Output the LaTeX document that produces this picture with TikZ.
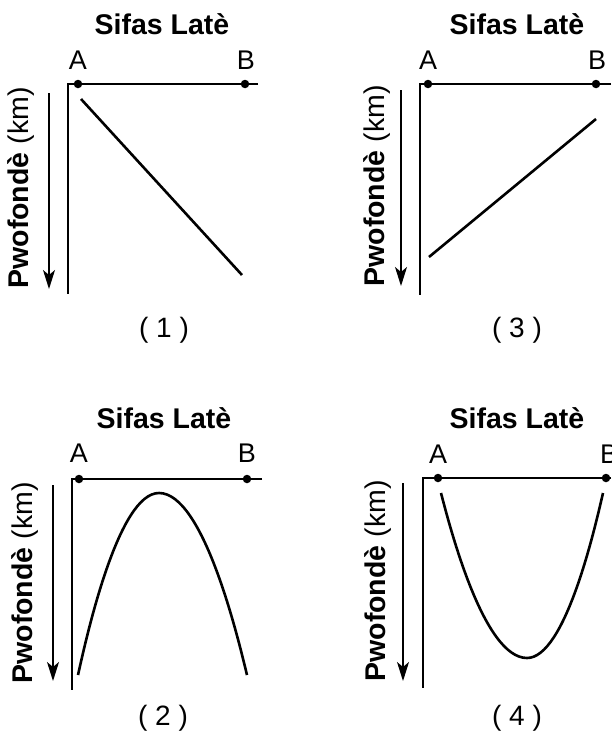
\documentclass[tikz,border=0pt]{standalone}
\usepackage{fontspec}
\setmainfont{Liberation Sans}
\usetikzlibrary{arrows.meta}
\begin{document}
\begin{tikzpicture}[x=1pt,y=-1pt,
  axis/.style={line width=1.3pt},
  graphline/.style={line width=2.6pt},
  deptharrow/.style={line width=1.4pt,-{Stealth[length=19pt,width=12pt,inset=5pt]}},
  dot/.style={circle,fill=black,inner sep=0pt,minimum size=8.5pt},
  title/.style={font=\fontsize{28.5}{32}\selectfont\bfseries},
  ptlabel/.style={font=\fontsize{27}{30}\selectfont},
  ylab/.style={rotate=90,font=\fontsize{28.5}{32}\selectfont},
  caption/.style={font=\fontsize{28}{32}\selectfont}]
\useasboundingbox (0,0) rectangle (611,744);

% ---------- Panel 1 ----------
\node[title] (t1) at (162,24) {Sifas Latè};
\coordinate (o1) at (68,84);
\coordinate (e1) at (258,84);
\coordinate (b1) at (68,294);
\node[dot] (A1) at (78,84) {};
\node[dot] (B1) at (245,84) {};
\node[ptlabel] (la1) at (78,60) {A};
\node[ptlabel] (lb1) at (246,60) {B};
\draw[axis] (e1) -- (o1) -- (b1);
\coordinate (as1) at (49,93);
\coordinate (ae1) at (49,289);
\draw[deptharrow] (as1) -- (ae1);
\node[ylab] (y1) at (21,188) {\textbf{Pwofondè} (km)};
\coordinate (p1s) at (81,99);
\coordinate (p1e) at (242,275);
\draw[graphline] (p1s) -- (p1e);
\node[caption] (c1) at (164,330) {( 1 )};

% ---------- Panel 3 ----------
\node[title] (t3) at (517,24) {Sifas Latè};
\coordinate (o3) at (420,84);
\coordinate (e3) at (611,84);
\coordinate (b3) at (420,295);
\node[dot] (A3) at (428,84) {};
\node[dot] (B3) at (596,84) {};
\node[ptlabel] (la3) at (428,60) {A};
\node[ptlabel] (lb3) at (597,60) {B};
\draw[axis] (e3) -- (o3) -- (b3);
\coordinate (as3) at (401,90);
\coordinate (ae3) at (401,286);
\draw[deptharrow] (as3) -- (ae3);
\node[ylab] (y3) at (377,186) {\textbf{Pwofondè} (km)};
\coordinate (p3s) at (429,257);
\coordinate (p3e) at (596,119);
\draw[graphline] (p3s) -- (p3e);
\node[caption] (c3) at (517,330) {( 3 )};

% ---------- Panel 2 ----------
\node[title] (t2) at (164,418) {Sifas Latè};
\coordinate (o2) at (72,479);
\coordinate (e2) at (262,479);
\coordinate (b2) at (72,690);
\node[dot] (A2) at (79,479) {};
\node[dot] (B2) at (247,479) {};
\node[ptlabel] (la2) at (79,453) {A};
\node[ptlabel] (lb2) at (247,453) {B};
\draw[axis] (e2) -- (o2) -- (b2);
\coordinate (as2) at (53,485);
\coordinate (ae2) at (53,681);
\draw[deptharrow] (as2) -- (ae2);
\node[ylab] (y2) at (25,583) {\textbf{Pwofondè} (km)};
\coordinate (p2s) at (78,675);
\coordinate (p2m) at (159,493);
\coordinate (p2e) at (247,675);
\draw[graphline] (p2s) parabola bend (p2m) (p2e);
\node[caption] (c2) at (163,718) {( 2 )};

% ---------- Panel 4 ----------
\node[title] (t4) at (517,418) {Sifas Latè};
\coordinate (o4) at (423,478);
\coordinate (e4) at (611,478);
\coordinate (b4) at (423,688);
\node[dot] (A4) at (438,478) {};
\node[dot] (B4) at (606,478) {};
\node[ptlabel] (la4) at (438,454) {A};
\node[ptlabel] (lb4) at (609,454) {B};
\draw[axis] (e4) -- (o4) -- (b4);
\coordinate (as4) at (403,483);
\coordinate (ae4) at (403,681);
\draw[deptharrow] (as4) -- (ae4);
\node[ylab] (y4) at (378,581) {\textbf{Pwofondè} (km)};
\coordinate (p4s) at (441,493);
\coordinate (p4m) at (527,658);
\coordinate (p4e) at (603,493);
\draw[graphline] (p4s) parabola bend (p4m) (p4e);
\node[caption] (c4) at (517,718) {( 4 )};
\end{tikzpicture}
\end{document}
